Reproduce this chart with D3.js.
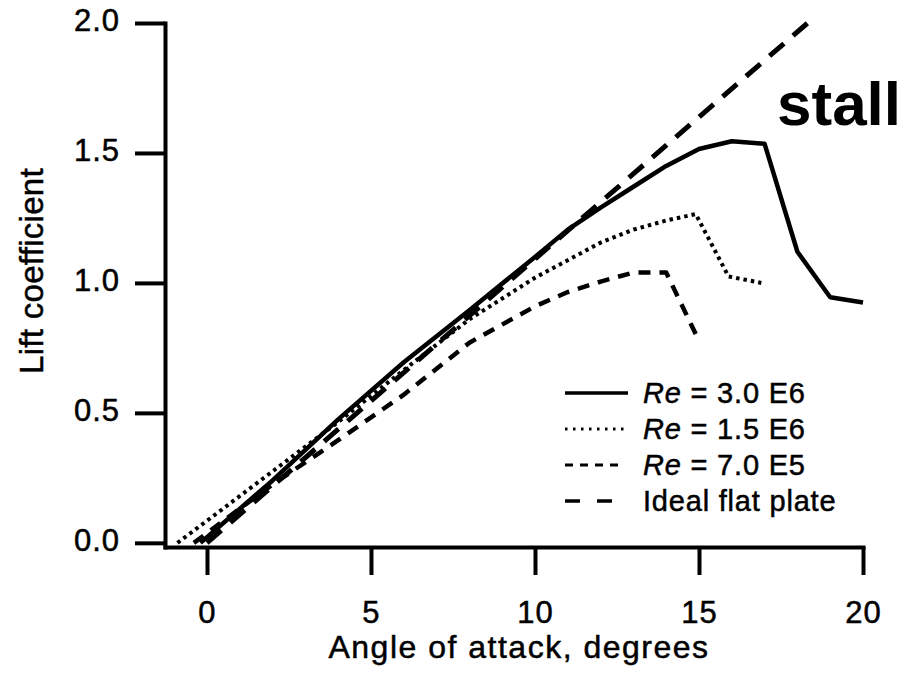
<!DOCTYPE html>
<html>
<head>
<meta charset="utf-8">
<script src="https://cdn.jsdelivr.net/npm/d3@7"></script>
<style>
  body { margin: 0; background: #fff; }
  svg { display: block; }
  text { font-family: "Liberation Sans", Arial, Helvetica, sans-serif; fill: #000; stroke: #000; stroke-width: 0.5px; }
</style>
</head>
<body>
<svg id="chart"></svg>
<script>
// data
const alpha30 = [-0.2, 2, 4, 6, 8, 10, 11, 12, 13, 14, 15, 16, 17, 18, 19, 20];
const cl30    = [0, 0.24, 0.475, 0.695, 0.895, 1.10, 1.205, 1.29, 1.37, 1.45, 1.515, 1.545, 1.535, 1.12, 0.945, 0.925];

const alpha15 = [-0.9, 0, 2, 4, 6, 8, 10, 12, 13, 14, 14.9, 15.9, 16.9];
const cl15    = [0, 0.085, 0.275, 0.465, 0.665, 0.86, 1.02, 1.155, 1.205, 1.24, 1.265, 1.025, 1.0];

const alpha07 = [-0.4, 2, 4, 6, 8, 10, 11, 12, 13, 14, 14.95];
const cl07    = [0, 0.225, 0.395, 0.57, 0.77, 0.91, 0.965, 1.005, 1.04, 1.04, 0.79];

const alphaIdeal = [0, 18.45];
const clIdeal    = [0, 2.015];

const xTicks = [0, 5, 10, 15, 20];
const yTicks = [0, 0.5, 1.0, 1.5, 2.0];

const legendLabels = [
  { re: true, txt: ' = 3.0 E6' },
  { re: true, txt: ' = 1.5 E6' },
  { re: true, txt: ' = 7.0 E5' },
  { re: false, txt: 'Ideal flat plate' }
];

const width = 906;
const height = 674;

const svg = d3.select('#chart')
  .attr('width', width)
  .attr('height', height);

const x = d3.scaleLinear().domain([-1.28, 20]).range([165, 863]);
const y = d3.scaleLinear().domain([-0.016, 2.0]).range([547, 23]);

// axes
const xAxis = svg.append('g')
  .attr('transform', 'translate(0,547)')
  .call(d3.axisBottom(x).tickValues(xTicks).tickFormat(d3.format('d'))
    .tickSizeInner(28).tickSizeOuter(0).tickPadding(26));

const yAxis = svg.append('g')
  .attr('transform', 'translate(165,0)')
  .call(d3.axisLeft(y).tickValues(yTicks).tickFormat(d3.format('.1f'))
    .tickSizeInner(30).tickSizeOuter(0).tickPadding(15));

[xAxis, yAxis].forEach(g => {
  g.select('.domain').attr('stroke', '#000').attr('stroke-width', 4).attr('stroke-linecap', 'square');
  g.selectAll('.tick line').attr('stroke', '#000').attr('stroke-width', 4);
  g.selectAll('.tick text')
    .style('font-family', '"Liberation Sans", Arial, sans-serif')
    .style('font-size', '31px')
    .style('letter-spacing', '1px')
    .attr('fill', '#000');
});
yAxis.selectAll('.tick text').attr('dy', '0.25em');

// axis titles
svg.append('text')
  .attr('x', 519)
  .attr('y', 658)
  .attr('text-anchor', 'middle')
  .style('font-size', '32px')
  .style('letter-spacing', '1.5px')
  .text('Angle of attack, degrees');

svg.append('text')
  .attr('transform', 'translate(43,271) rotate(-90)')
  .attr('text-anchor', 'middle')
  .style('font-size', '33px')
  .style('letter-spacing', '0.3px')
  .text('Lift coefficient');

// curves
const line = d3.line().x(d => x(d[0])).y(d => y(d[1]));

const series = [
  { a: alphaIdeal, c: clIdeal, w: 5, dash: '19,12' },
  { a: alpha07, c: cl07, w: 4.5, dash: '12,9' },
  { a: alpha15, c: cl15, w: 4, dash: '3.5,4' },
  { a: alpha30, c: cl30, w: 4.5, dash: null }
];

svg.selectAll('path.curve')
  .data(series)
  .enter()
  .append('path')
  .attr('class', 'curve')
  .attr('d', d => line(d3.zip(d.a, d.c)))
  .attr('fill', 'none')
  .attr('stroke', '#000')
  .attr('stroke-width', d => d.w)
  .attr('stroke-linejoin', 'round')
  .attr('stroke-dasharray', d => d.dash);

// legend
const legendStyles = [
  { w: 3.5, dash: null, x2: 628 },
  { w: 3, dash: '2.5,5.5', x2: 628 },
  { w: 3, dash: '8,7', x2: 620 },
  { w: 3.5, dash: '15,17', x2: 613 }
];

const legend = svg.append('g');
legend.selectAll('line')
  .data(legendStyles)
  .enter()
  .append('line')
  .attr('x1', 565)
  .attr('x2', d => d.x2)
  .attr('y1', (d, i) => 393 + i * 36)
  .attr('y2', (d, i) => 393 + i * 36)
  .attr('stroke', '#000')
  .attr('stroke-width', d => d.w)
  .attr('stroke-dasharray', d => d.dash);

const lt = legend.selectAll('text')
  .data(legendLabels)
  .enter()
  .append('text')
  .attr('x', 643)
  .attr('y', (d, i) => 403 + i * 36)
  .style('font-size', '29px')
  .style('letter-spacing', '0.8px');
lt.filter(d => d.re).append('tspan').style('font-style', 'italic').text('Re');
lt.append('tspan').text(d => d.txt);

// annotation
svg.append('text')
  .attr('x', 777)
  .attr('y', 125)
  .style('font-size', '62px')
  .style('font-weight', 'bold')
  .style('stroke-width', '0')
  .text('stall');
</script>
</body>
</html>
